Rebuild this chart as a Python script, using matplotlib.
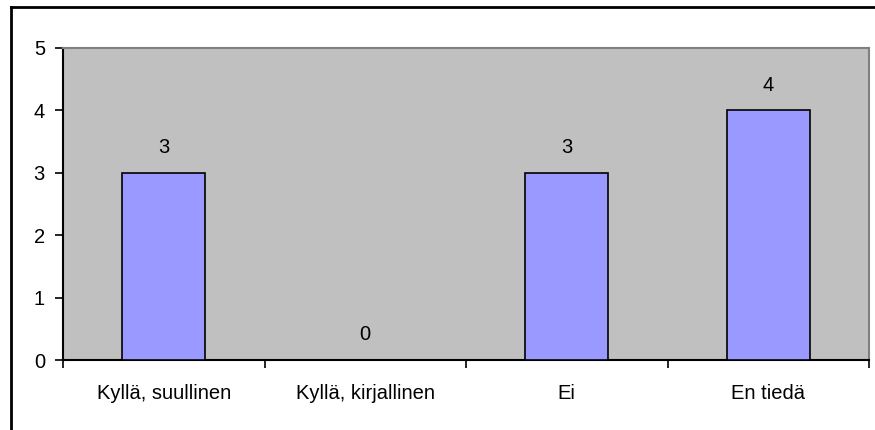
import matplotlib
matplotlib.use('Agg')
import matplotlib.pyplot as plt
import numpy as np
from matplotlib.lines import Line2D

categories = ['Kyllä, suullinen', 'Kyllä, kirjallinen', 'Ei', 'En tiedä']
values = [3, 0, 3, 4]
y_ticks = [0, 1, 2, 3, 4, 5]

plt.rcParams['font.family'] = ['Liberation Sans', 'DejaVu Sans']
fs = 14.5

W, H = 875, 430
fig = plt.figure(figsize=(W / 100, H / 100), dpi=100)
ax = fig.add_axes([63 / W, (H - 360) / H, (869 - 63) / W, (360 - 48) / H])

bar_color = '#9999FF'
ax.set_facecolor('#C0C0C0')

x = np.arange(len(categories))
ax.bar(x, values, width=0.41, color=bar_color, edgecolor='black', linewidth=1.2, zorder=3)

for xi, v in zip(x, values):
    ax.annotate(str(v), (xi, v), xytext=(0, 18), textcoords='offset points',
                ha='center', va='center', fontsize=fs)

ax.set_xlim(-0.5, len(categories) - 0.5)
ax.set_ylim(0, 5)
ax.set_yticks(y_ticks)
ax.set_yticklabels([str(t) for t in y_ticks], fontsize=fs)

# category boundaries as ticks, names in between
ax.set_xticks(np.arange(len(categories) + 1) - 0.5)
ax.set_xticklabels([])
ax.set_xticks(x, minor=True)
ax.set_xticklabels(categories, minor=True, fontsize=fs)
ax.tick_params(axis='x', which='major', length=6, width=1.2, direction='out')
ax.tick_params(axis='x', which='minor', length=0, pad=17)
ax.tick_params(axis='y', length=6, width=1.2, direction='out', pad=7)

for side in ['top', 'right']:
    ax.spines[side].set_color('#808080')
    ax.spines[side].set_linewidth(1.5)
for side in ['left', 'bottom']:
    ax.spines[side].set_color('black')
    ax.spines[side].set_linewidth(1.5)

# outer chart border (cut off at right and bottom)
fig.add_artist(Line2D([11 / W, 11 / W], [0, 1 - 7 / H], color='black', linewidth=2))
fig.add_artist(Line2D([11 / W, 1], [1 - 7 / H, 1 - 7 / H], color='black', linewidth=2))

plt.savefig('out.png', dpi=100)
plt.close()
